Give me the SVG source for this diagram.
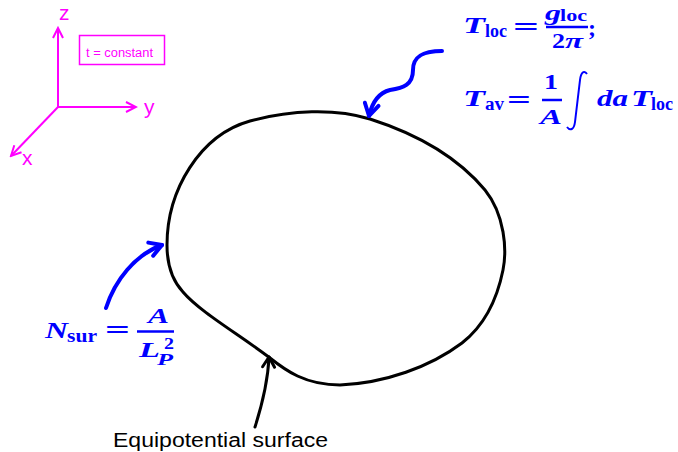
<svg xmlns="http://www.w3.org/2000/svg" width="678" height="452" viewBox="0 0 678 452">
<defs>
<style>
.ax{stroke:#ff00ff;stroke-width:2;fill:none}
.axl{fill:#ff00ff;font-family:"Liberation Sans",Arial,sans-serif;font-size:21px}
.m{fill:#0000ff;font-family:"Liberation Serif","Times New Roman",serif;font-weight:bold;font-style:italic}
.mr{fill:#0000ff;font-family:"Liberation Serif","Times New Roman",serif;font-weight:bold}
.bar{stroke:#0000ff;stroke-width:2.5}
.bl{stroke:#0000ff;stroke-width:4;fill:none;stroke-linecap:round}
.bk{stroke:#000;stroke-width:3;fill:none;stroke-linecap:round}
</style>
<marker id="am" markerUnits="userSpaceOnUse" markerWidth="14" markerHeight="14" viewBox="0 0 14 14" refX="12" refY="7" orient="auto">
<path d="M2,2 L12,7 L2,12" stroke="#ff00ff" stroke-width="2" fill="none"/>
</marker>
<marker id="ab" markerUnits="userSpaceOnUse" markerWidth="20" markerHeight="20" viewBox="0 0 20 20" refX="17" refY="10" orient="auto">
<path d="M5,3 L17,10 L5,17" stroke="#0000ff" stroke-width="4" fill="none" stroke-linecap="round" stroke-linejoin="round"/>
</marker>
<marker id="ak" markerUnits="userSpaceOnUse" markerWidth="20" markerHeight="20" viewBox="0 0 20 20" refX="17" refY="10" orient="auto">
<path d="M7,4 L17,10 L7,16" stroke="#000" stroke-width="3" fill="none" stroke-linecap="round" stroke-linejoin="round"/>
</marker>
</defs>
<rect width="678" height="452" fill="#fff"/>

<g id="axes">
<line class="ax" x1="58" y1="107" x2="58" y2="28" marker-end="url(#am)"/>
<line class="ax" x1="58" y1="107" x2="136" y2="107" marker-end="url(#am)"/>
<line class="ax" x1="58" y1="107" x2="11" y2="156" marker-end="url(#am)"/>
<text class="axl" x="59" y="20">z</text>
<text class="axl" x="144" y="114">y</text>
<text class="axl" x="22" y="165">x</text>
</g>

<g id="tconst">
<rect x="79.5" y="35.5" width="85" height="29" fill="none" stroke="#ff00ff" stroke-width="1.5"/>
<text x="86" y="57" fill="#ff00ff" font-family="Liberation Sans,Arial,sans-serif" font-size="12.5" textLength="67" lengthAdjust="spacingAndGlyphs">t = constant</text>
</g>

<g id="surface">
<path class="bk" d="M167,245 C167,190 200,135 250,121 C290,110 335,108 370,119 C420,135 460,160 485,190 C505,215 507,250 503,270 C497,300 485,325 462,343 C430,367 385,383 340,385 C305,385 285,370 270,358 C240,335 200,312 183,292 C170,278 167,262 167,245 Z"/>
</g>

<g id="tloc">
<text class="m" x="463" y="33" font-size="24" textLength="22" lengthAdjust="spacingAndGlyphs">T</text>
<text class="mr" x="485" y="37" font-size="18" textLength="22" lengthAdjust="spacingAndGlyphs">loc</text>
<text class="mr" x="513" y="36" font-size="28" textLength="26" lengthAdjust="spacingAndGlyphs">=</text>
<text class="m" x="545" y="20" font-size="22" textLength="16" lengthAdjust="spacingAndGlyphs">g</text>
<text class="mr" x="560" y="21" font-size="16" textLength="27" lengthAdjust="spacingAndGlyphs">loc</text>
<line class="bar" x1="546" y1="27" x2="588" y2="27"/>
<text class="mr" x="552" y="48" font-size="22" textLength="13" lengthAdjust="spacingAndGlyphs">2</text>
<text class="m" x="565" y="48" font-size="22" textLength="18" lengthAdjust="spacingAndGlyphs">π</text>
<text class="mr" x="588" y="36" font-size="24">;</text>
</g>

<g id="tav">
<text class="m" x="463" y="106" font-size="24" textLength="22" lengthAdjust="spacingAndGlyphs">T</text>
<text class="mr" x="485" y="110" font-size="18" textLength="19" lengthAdjust="spacingAndGlyphs">av</text>
<text class="mr" x="507" y="109" font-size="28" textLength="24" lengthAdjust="spacingAndGlyphs">=</text>
<text class="mr" x="544" y="89" font-size="22" textLength="14" lengthAdjust="spacingAndGlyphs">1</text>
<line class="bar" x1="542" y1="100" x2="562" y2="100"/>
<text class="m" x="540" y="124" font-size="22" textLength="22" lengthAdjust="spacingAndGlyphs">A</text>
<path d="M587,74 C584,70 581,72 580,80 L575,122 C574,130 570,131 567,127" stroke="#0000ff" stroke-width="2" fill="none"/>
<text class="m" x="597" y="106" font-size="24" textLength="31" lengthAdjust="spacingAndGlyphs">da</text>
<text class="m" x="631" y="106" font-size="24" textLength="21" lengthAdjust="spacingAndGlyphs">T</text>
<text class="mr" x="651" y="110" font-size="18" textLength="22" lengthAdjust="spacingAndGlyphs">loc</text>
</g>

<g id="nsur">
<text class="m" x="45" y="338" font-size="24" textLength="23" lengthAdjust="spacingAndGlyphs">N</text>
<text class="mr" x="67" y="342" font-size="18" textLength="30" lengthAdjust="spacingAndGlyphs">sur</text>
<text class="mr" x="105" y="339" font-size="28" textLength="25" lengthAdjust="spacingAndGlyphs">=</text>
<text class="m" x="148" y="323" font-size="22" textLength="21" lengthAdjust="spacingAndGlyphs">A</text>
<line class="bar" x1="137" y1="331.5" x2="174" y2="331.5"/>
<text class="m" x="139" y="357" font-size="22" textLength="21" lengthAdjust="spacingAndGlyphs">L</text>
<text class="mr" x="164" y="349" font-size="16" textLength="10" lengthAdjust="spacingAndGlyphs">2</text>
<text class="m" x="157" y="365" font-size="17" textLength="16" lengthAdjust="spacingAndGlyphs">P</text>
</g>

<g id="connectors">
<path class="bl" d="M442,51 C425,51 413,55 413,70 C413,85 403,88 390,90 C378,93 372,103 369,116" marker-end="url(#ab)"/>
<path class="bl" d="M106,308 C115,280 135,255 162,245" marker-end="url(#ab)"/>
<path class="bk" d="M255,427 C262,405 268,380 269,357" marker-end="url(#ak)"/>
</g>

<g id="label">
<text x="113" y="447" font-family="Liberation Sans,Arial,sans-serif" font-size="19.5" fill="#000" textLength="215" lengthAdjust="spacingAndGlyphs">Equipotential surface</text>
</g>
</svg>
